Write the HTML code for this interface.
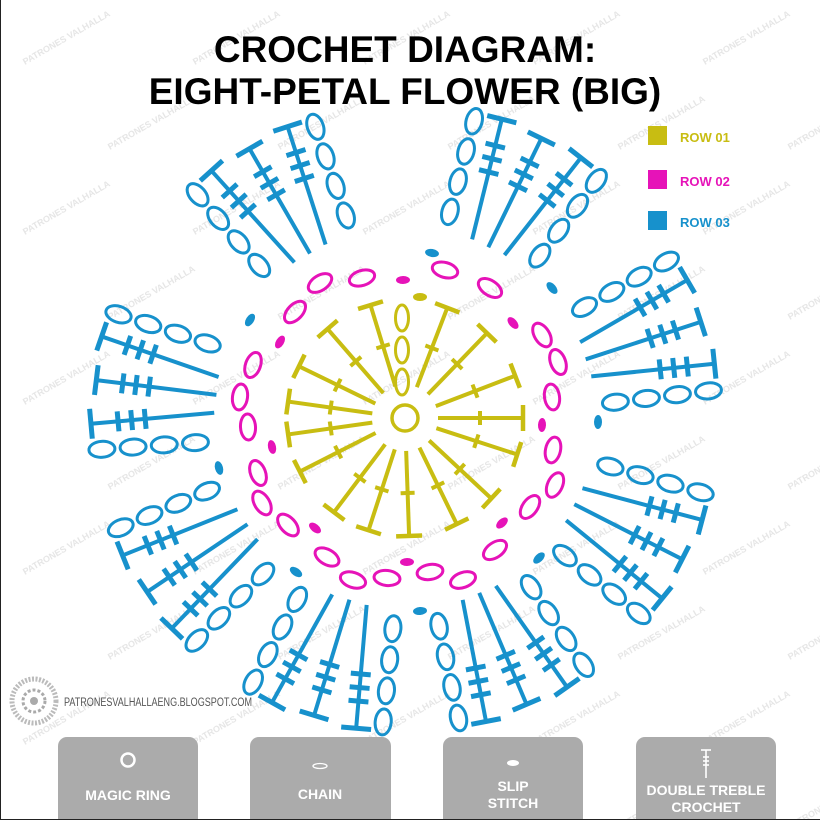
<!DOCTYPE html>
<html><head><meta charset="utf-8">
<style>
html,body{margin:0;padding:0;background:#fff;}
body{width:820px;height:820px;overflow:hidden;position:relative;font-family:"Liberation Sans",sans-serif;}
svg{position:absolute;left:0;top:0;}
</style></head>
<body>
<svg id="s" width="820" height="820" viewBox="0 0 820 820" xmlns="http://www.w3.org/2000/svg">
<g id="wm" fill="#e6e6e6" font-family="Liberation Sans, sans-serif" font-size="9" font-weight="bold"></g>
<text x="405" y="62" text-anchor="middle" font-family="Liberation Sans, sans-serif" font-weight="bold" font-size="37" fill="#000">CROCHET DIAGRAM:</text>
<text x="405" y="104" text-anchor="middle" font-family="Liberation Sans, sans-serif" font-weight="bold" font-size="37" fill="#000">EIGHT-PETAL FLOWER (BIG)</text>
<rect x="648" y="126" width="19" height="19" fill="#c8bd12"/>
<text x="680" y="142" font-family="Liberation Sans, sans-serif" font-weight="bold" font-size="13" fill="#c8bd12">ROW 01</text>
<rect x="648" y="170" width="19" height="19" fill="#e613b8"/>
<text x="680" y="186" font-family="Liberation Sans, sans-serif" font-weight="bold" font-size="13" fill="#e613b8">ROW 02</text>
<rect x="648" y="211" width="19" height="19" fill="#1791cc"/>
<text x="680" y="227" font-family="Liberation Sans, sans-serif" font-weight="bold" font-size="13" fill="#1791cc">ROW 03</text>
<g id="d"></g>
<circle cx="34" cy="701" r="22" fill="none" stroke="#bbb" stroke-width="5" stroke-dasharray="2 1.5"/>
<circle cx="34" cy="701" r="11" fill="none" stroke="#aaa" stroke-width="3" stroke-dasharray="3 2"/>
<circle cx="34" cy="701" r="4" fill="#aaa"/>
<text x="64" y="706" font-family="Liberation Sans, sans-serif" font-size="11.5" fill="#555" textLength="188" lengthAdjust="spacingAndGlyphs">PATRONESVALHALLAENG.BLOGSPOT.COM</text>
<g fill="#ababab">
<rect x="58" y="737" width="140" height="95" rx="9"/>
<rect x="250" y="737" width="141" height="95" rx="9"/>
<rect x="443" y="737" width="140" height="95" rx="9"/>
<rect x="636" y="737" width="140" height="95" rx="9"/>
</g>
<circle cx="128" cy="760" r="6.5" fill="none" stroke="#fff" stroke-width="2.5"/>
<ellipse cx="320" cy="766" rx="7" ry="2.5" fill="none" stroke="#fff" stroke-width="1.3"/>
<ellipse cx="513" cy="763" rx="6" ry="3" fill="#fff"/>
<g stroke="#fff" stroke-width="1.6">
<line x1="706" y1="750" x2="706" y2="778"/><line x1="701" y1="750" x2="711" y2="750"/>
<line x1="703" y1="757" x2="709" y2="757"/><line x1="703" y1="761" x2="709" y2="761"/><line x1="703" y1="765" x2="709" y2="765"/>
</g>
<g font-family="Liberation Sans, sans-serif" font-weight="bold" font-size="14" fill="#fff" text-anchor="middle">
<text x="128" y="800">MAGIC RING</text>
<text x="320" y="799">CHAIN</text>
<text x="513" y="791">SLIP</text>
<text x="513" y="808">STITCH</text>
<text x="706" y="795">DOUBLE TREBLE</text>
<text x="706" y="812">CROCHET</text>
</g>
<line x1="0" y1="819.5" x2="820" y2="819.5" stroke="#222" stroke-width="1"/>
<line x1="0.5" y1="0" x2="0.5" y2="820" stroke="#222" stroke-width="1"/>
</svg>
<script>
var NS="http://www.w3.org/2000/svg";
var d=document.getElementById("d");
var CX=405,CY=418;
function el(t,a){var e=document.createElementNS(NS,t);for(var k in a)e.setAttribute(k,a[k]);d.appendChild(e);return e;}
function line(x1,y1,x2,y2,c,w){el("line",{x1:x1,y1:y1,x2:x2,y2:y2,stroke:c,"stroke-width":w});}
function oval(x,y,rx,ry,ang,c,fill){el("ellipse",{cx:x,cy:y,rx:rx,ry:ry,transform:"rotate("+ang+" "+x+" "+y+")",fill:fill?c:"none",stroke:c,"stroke-width":fill?0:3});}
var Y="#c8bd12",P="#e613b8",B="#1791cc";
var wm=document.getElementById("wm");
for(var yy=-20;yy<900;yy+=85){for(var xx=-40;xx<900;xx+=170){var o=((yy/85)%2)*85;var t=document.createElementNS(NS,"text");t.setAttribute("x",xx+o);t.setAttribute("y",yy);t.setAttribute("transform","rotate(-30 "+(xx+o)+" "+yy+")");t.textContent="PATRONES VALHALLA";wm.appendChild(t);}}
el("circle",{cx:CX,cy:CY,r:13,fill:"none",stroke:Y,"stroke-width":3.5});
[253,229,206,188,172,153,127,108,88,64,43,18,0,339,314,291].forEach(function(a){
 var r=a*Math.PI/180,c=Math.cos(r),s=Math.sin(r);
 function p(u,v){return [CX+u*c-v*s,CY+u*s+v*c];}
 var A=p(33,0),Bp=p(118,0);line(A[0],A[1],Bp[0],Bp[1],Y,4);
 var t1=p(118,-13),t2=p(118,13);line(t1[0],t1[1],t2[0],t2[1],Y,4.5);
 var k1=p(75,-7),k2=p(75,7);line(k1[0],k1[1],k2[0],k2[1],Y,4);
});
[318,350,382].forEach(function(y){oval(402,y,6.5,13,0,Y,false);});
oval(420,297,7,4,0,Y,true);
var pov=[[320,283],[362,278],[445,270],[490,288],[295,312],[542,335],[253,365],[558,362],[240,397],[552,397],[248,427],[553,450],[258,473],[555,485],[262,503],[530,507],[288,525],[495,550],[327,557],[430,572],[353,580],[387,578],[463,580]];
pov.forEach(function(q){var a=Math.atan2(q[1]-CY,q[0]-CX)*180/Math.PI;oval(q[0],q[1],13,7.5,a+90,P,false);});
[[403,280],[513,323],[280,342],[542,425],[272,447],[502,523],[315,528],[407,562]].forEach(function(q){var a=Math.atan2(q[1]-CY,q[0]-CX)*180/Math.PI;oval(q[0],q[1],7,4,a+90,P,true);});
[27,67,107,146,187,240,296,342].forEach(function(a){
 var r=a*Math.PI/180,c=Math.cos(r),s=Math.sin(r);
 function p(u,v){return [CX+u*c-v*s,CY+u*s+v*c];}
 [[-18,-44],[0,0],[18,44]].forEach(function(o){
  var A=p(190,o[0]),T=p(311,o[1]);line(A[0],A[1],T[0],T[1],B,4);
  var dx=T[0]-A[0],dy=T[1]-A[1],L=Math.sqrt(dx*dx+dy*dy),nx=-dy/L,ny=dx/L;
  line(T[0]-nx*15,T[1]-ny*15,T[0]+nx*15,T[1]+ny*15,B,5);
  [0.56,0.67,0.78].forEach(function(f){var mx=A[0]+dx*f,my=A[1]+dy*f;line(mx-nx*10,my-ny*10,mx+nx*10,my+ny*10,B,5);});
 });
 [-1,1].forEach(function(sg){
  var S=p(205,sg*50),E=p(297,sg*68);var ang=Math.atan2(E[1]-S[1],E[0]-S[0])*180/Math.PI;
  for(var i=0;i<4;i++){var f=i/3;oval(S[0]+(E[0]-S[0])*f,S[1]+(E[1]-S[1])*f,13,8,ang,B,false);}
 });
});
[[250,320],[219,468],[296,572],[420,611],[539,558],[598,422],[432,253],[552,288]].forEach(function(q){var a=Math.atan2(q[1]-CY,q[0]-CX)*180/Math.PI;oval(q[0],q[1],7,4,a+90,B,true);});
</script>
</body></html>
